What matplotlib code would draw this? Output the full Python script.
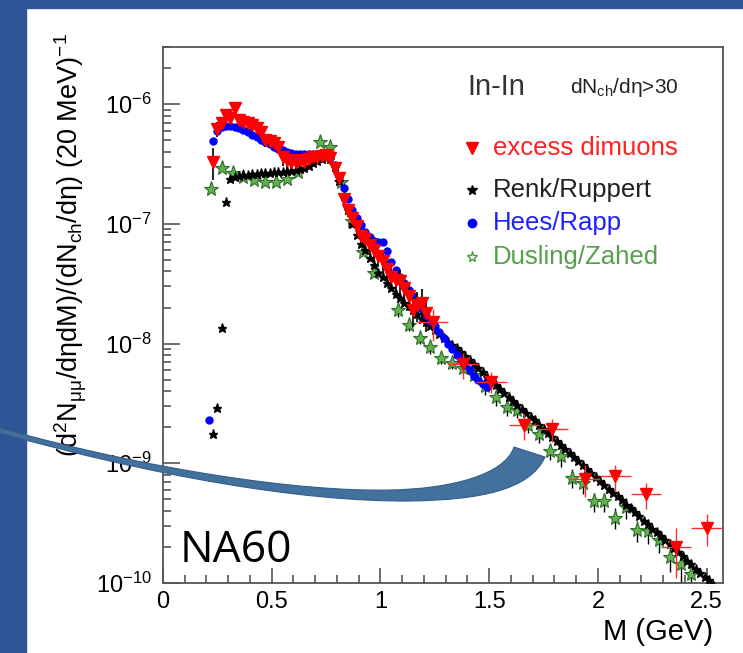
import numpy as np
import matplotlib
matplotlib.use('Agg')
import matplotlib.pyplot as plt
from matplotlib.path import Path
from matplotlib.patches import PathPatch, Rectangle
from matplotlib.ticker import MultipleLocator, FuncFormatter, LogLocator, NullFormatter

plt.rcParams['font.family'] = ['Liberation Sans', 'DejaVu Sans']
plt.rcParams['mathtext.fontset'] = 'custom'
plt.rcParams['mathtext.rm'] = 'Liberation Sans'
plt.rcParams['mathtext.it'] = 'Liberation Sans'
plt.rcParams['mathtext.bf'] = 'Liberation Sans:bold'

# --- data (M in GeV) ---
# excess dimuons, 20 MeV bins
excess_x = np.round(np.arange(0.23, 1.22, 0.02), 2)
excess_y = [3.3e-7, 6.2e-7, 7.0e-7, 8.1e-7, 7.6e-7, 9.3e-7, 7.4e-7, 7.1e-7, 6.9e-7, 6.7e-7,
            6.3e-7, 5.8e-7, 5.0e-7, 4.9e-7, 4.7e-7, 4.4e-7, 3.6e-7, 3.4e-7, 3.3e-7, 3.3e-7,
            3.4e-7, 3.3e-7, 3.5e-7, 3.6e-7, 3.65e-7, 3.7e-7, 3.75e-7, 3.55e-7, 2.9e-7, 2.4e-7,
            1.6e-7, 1.3e-7, 1.12e-7, 9.6e-8, 7.9e-8, 7.4e-8, 6.6e-8, 6.0e-8, 5.4e-8, 4.9e-8,
            4.2e-8, 3.6e-8, 3.4e-8, 3.3e-8, 2.9e-8, 2.5e-8, 1.9e-8, 2.1e-8, 2.2e-8, 1.8e-8]
excess_err = [0.30, 0.15, 0.12, 0.12, 0.12, 0.12, 0.12, 0.12, 0.12, 0.12,
              0.12, 0.12, 0.12, 0.12, 0.12, 0.12, 0.15, 0.15, 0.15, 0.15,
              0.15, 0.15, 0.12, 0.12, 0.10, 0.10, 0.10, 0.10, 0.10, 0.12,
              0.12, 0.12, 0.15, 0.15, 0.15, 0.18, 0.18, 0.18, 0.20, 0.20,
              0.20, 0.22, 0.22, 0.25, 0.25, 0.25, 0.28, 0.28, 0.30, 0.30]
# excess dimuons, wide bins at high mass
excess_wide_x = [1.24, 1.38, 1.51, 1.66, 1.79, 1.94, 2.08, 2.22, 2.36, 2.50]
excess_wide_y = [1.5e-8, 6.7e-9, 4.8e-9, 2.07e-9, 1.92e-9, 7.4e-10, 7.8e-10, 5.5e-10, 2.0e-10, 2.9e-10]
excess_wide_err = [0.30, 0.25, 0.20, 0.25, 0.22, 0.30, 0.25, 0.25, 0.45, 0.30]
excess_wide_xerr = 0.07

# Renk/Ruppert
renk_x = np.concatenate([[0.23, 0.25, 0.27, 0.29], np.round(np.arange(0.31, 2.54, 0.02), 2)])
renk_y = [1.75e-9, 2.9e-9, 1.36e-8, 1.52e-7,
          2.35e-7, 2.45e-7, 2.5e-7, 2.55e-7, 2.58e-7, 2.6e-7, 2.62e-7, 2.64e-7, 2.66e-7, 2.68e-7,
          2.7e-7, 2.7e-7, 2.72e-7, 2.74e-7, 2.76e-7, 2.8e-7, 2.85e-7, 2.95e-7, 3.05e-7, 3.2e-7,
          3.35e-7, 3.5e-7, 3.6e-7, 3.5e-7, 3.0e-7, 2.3e-7, 1.7e-7, 1.3e-7, 1.0e-7, 8.0e-8,
          6.8e-8, 6.0e-8, 5.2e-8, 4.5e-8, 3.9e-8,
          3.6e-8, 3.2e-8, 2.9e-8, 2.6e-8, 2.4e-8, 2.2e-8, 2.05e-8, 1.9e-8, 1.75e-8, 1.6e-8,
          1.5e-8, 1.4e-8, 1.3e-8, 1.2e-8, 1.12e-8, 1.04e-8, 9.7e-9, 9.1e-9, 8.5e-9, 7.9e-9,
          7.3e-9, 6.8e-9, 6.3e-9, 5.8e-9, 5.3e-9, 4.9e-9, 4.5e-9, 4.2e-9, 3.85e-9, 3.6e-9,
          3.3e-9, 3.05e-9, 2.85e-9, 2.65e-9, 2.45e-9, 2.28e-9, 2.1e-9, 1.95e-9, 1.8e-9, 1.67e-9,
          1.54e-9, 1.43e-9, 1.32e-9, 1.22e-9, 1.13e-9, 1.05e-9, 9.7e-10, 9.0e-10, 8.3e-10, 7.7e-10,
          7.1e-10, 6.6e-10, 6.1e-10, 5.7e-10, 5.3e-10, 4.9e-10, 4.5e-10, 4.2e-10, 3.9e-10, 3.6e-10,
          3.3e-10, 3.1e-10, 2.85e-10, 2.65e-10, 2.45e-10, 2.28e-10, 2.1e-10, 1.95e-10, 1.8e-10, 1.67e-10,
          1.54e-10, 1.43e-10, 1.32e-10, 1.22e-10, 1.13e-10, 1.05e-10, 9.7e-11]

# Hees/Rapp
rapp_x = np.concatenate([[0.21], np.round(np.arange(0.23, 1.50, 0.02), 2)])
rapp_y = [2.3e-9,
          4.9e-7, 6.0e-7, 6.4e-7, 6.6e-7, 6.6e-7, 6.5e-7, 6.3e-7, 6.1e-7, 5.8e-7, 5.5e-7,
          5.3e-7, 5.0e-7, 4.8e-7, 4.6e-7, 4.4e-7, 4.2e-7, 4.1e-7, 4.0e-7, 3.9e-7, 3.85e-7,
          3.8e-7, 3.8e-7, 3.8e-7, 3.8e-7, 3.8e-7, 3.8e-7, 3.75e-7, 3.6e-7, 3.1e-7, 2.5e-7,
          2.0e-7, 1.6e-7, 1.3e-7, 1.12e-7, 9.8e-8, 8.6e-8, 7.8e-8, 7.2e-8, 7.1e-8, 7.0e-8,
          5.9e-8, 4.8e-8, 4.1e-8, 3.6e-8, 3.2e-8, 2.8e-8, 2.5e-8, 2.2e-8, 1.95e-8, 1.7e-8,
          1.55e-8, 1.4e-8, 1.25e-8, 1.12e-8, 1.0e-8, 9.0e-9, 8.1e-9, 7.3e-9, 6.6e-9, 6.0e-9,
          5.4e-9, 4.95e-9, 4.6e-9, 4.3e-9]

# Dusling/Zahed
dusling_x = [0.22, 0.27, 0.32, 0.37, 0.42, 0.47, 0.52, 0.57, 0.62, 0.72, 0.77, 0.82, 0.87, 0.92,
             0.97, 1.08, 1.13, 1.18, 1.23, 1.28, 1.33, 1.38, 1.43, 1.48, 1.53, 1.58, 1.63, 1.68,
             1.73, 1.78, 1.83, 1.88, 1.93, 1.98, 2.03, 2.08, 2.13, 2.18, 2.23, 2.28, 2.33, 2.38, 2.43]
dusling_y = [1.96e-7, 2.9e-7, 2.66e-7, 2.46e-7, 2.33e-7, 2.24e-7, 2.24e-7, 2.37e-7, 2.7e-7,
             4.8e-7, 4.4e-7, 2.24e-7, 1.05e-7, 5.8e-8, 3.9e-8, 1.9e-8, 1.44e-8, 1.12e-8, 9.3e-9,
             7.6e-9, 6.9e-9, 6.3e-9, 5.5e-9, 4.4e-9, 3.55e-9, 2.93e-9, 2.8e-9, 2.1e-9, 1.75e-9,
             1.26e-9, 1.14e-9, 7.6e-10, 6.8e-10, 4.8e-10, 4.8e-10, 3.5e-10, 4.3e-10, 2.77e-10,
             2.7e-10, 2.28e-10, 1.65e-10, 1.44e-10, 1.19e-10]
dusling_err = [0, 0, 0, 0, 0, 0, 0, 0, 0, 0, 0, 0, 0, 0,
               0, 0.12, 0.12, 0.12, 0.12, 0.12, 0.12, 0.12, 0.12, 0.15, 0.15, 0.15, 0.15, 0.15,
               0.15, 0.15, 0.18, 0.18, 0.18, 0.18, 0.18, 0.2, 0.2, 0.2, 0.22, 0.22, 0.25, 0.3, 0.3]

legend_labels = ['excess dimuons', 'Renk/Ruppert', 'Hees/Rapp', 'Dusling/Zahed']

fig = plt.figure(figsize=(7.43, 6.53), dpi=100)

# slide frame (blue bars)
fig.add_artist(Rectangle((0, 0), 26 / 743, 1, transform=fig.transFigure,
                         color='#2F5597', zorder=0))
fig.add_artist(Rectangle((0, 1 - 8 / 653), 1, 8 / 653, transform=fig.transFigure,
                         color='#2F5597', zorder=0))

ax = fig.add_axes([163 / 743, 1 - 583 / 653, 560 / 743, 536 / 653])
ax.set_zorder(1)

# models
dy = np.array(dusling_y)
dr = np.array(dusling_err)
ax.errorbar(dusling_x, dy, yerr=[dy * dr, dy * dr], fmt='none', ecolor='black',
            elinewidth=1.0, zorder=2)
ax.plot(dusling_x, dy, ls='none', marker='*', ms=11, mfc='#62b050', mec='#2f6f2a',
        mew=0.8, zorder=3)
ax.plot(renk_x, renk_y, ls='none', marker='*', ms=6.5, color='black', zorder=4)
ax.plot(rapp_x, rapp_y, ls='none', marker='o', ms=5, color='#0000ff', mec='#0000ff', zorder=5)

# data
ey = np.array(excess_y)
er = np.array(excess_err)
ax.errorbar(excess_x, ey, yerr=[ey * er, ey * er], fmt='none', ecolor='black',
            elinewidth=1.2, zorder=6)
ax.plot(excess_x, ey, ls='none', marker='v', ms=8, color='#ff0000', zorder=7)
wy = np.array(excess_wide_y)
wr = np.array(excess_wide_err)
ax.errorbar(excess_wide_x, wy, xerr=excess_wide_xerr, yerr=[wy * wr, wy * wr], fmt='v',
            ms=8, color='#ff0000', ecolor='#ff3030', elinewidth=1.0, zorder=7)

ax.set_yscale('log')
ax.set_xlim(0, 2.575)
ax.set_ylim(1e-10, 3e-6)
ax.xaxis.set_major_locator(MultipleLocator(0.5))
ax.xaxis.set_minor_locator(MultipleLocator(0.1))
ax.xaxis.set_major_formatter(FuncFormatter(lambda v, p: f'{v:g}'))
ax.yaxis.set_major_locator(LogLocator(base=10))
ax.yaxis.set_minor_locator(LogLocator(base=10, subs=np.arange(2, 10)))
ax.yaxis.set_minor_formatter(NullFormatter())

ax.tick_params(which='both', direction='in', top=False, right=False, color='#555555',
               labelsize=17, width=1.2)
ax.tick_params(axis='y', which='major', length=12, pad=8)
ax.tick_params(axis='y', which='minor', length=6)
ax.tick_params(axis='x', which='major', length=11, pad=6)
ax.tick_params(axis='x', which='minor', length=5.5)
for s in ax.spines.values():
    s.set_color('#555555')
    s.set_linewidth(1.3)

ax.set_xlabel('M (GeV)', fontsize=21)
ax.xaxis.set_label_coords(0.982, -0.092)
ax.xaxis.label.set_horizontalalignment('right')
ax.xaxis.label.set_verticalalignment('center')

ax.set_ylabel(r'(d$^{2}$N$_{μμ}$/dηdM)/(dN$_{ch}$/dη) (20 MeV)$^{-1}$', fontsize=19.5)
ax.yaxis.set_label_coords(-0.165, 0.63)
ax.yaxis.label.set_verticalalignment('center')

# in-plot labels / legend
ax.text(0.543, 0.925, 'In-In', transform=ax.transAxes, fontsize=21, color='#333333',
        va='center', ha='left')
ax.text(0.727, 0.925, r'dN$_{ch}$/dη>30', transform=ax.transAxes, fontsize=15,
        color='#222222', va='center', ha='left')

leg_y = [0.8116, 0.7332, 0.6716, 0.6082]
leg_marker = ['v', '*', 'o', '*']
leg_mfc = ['#ff0000', 'black', '#0000ff', 'none']
leg_mec = ['#ff0000', 'black', '#0000ff', '#4f9a45']
leg_ms = [8, 7, 6, 8]
leg_tc = ['#ff2020', '#222222', '#2020ff', '#55a04a']
for lab, yy, mk, fc, ec, ms, tc in zip(legend_labels, leg_y, leg_marker, leg_mfc, leg_mec,
                                       leg_ms, leg_tc):
    ax.plot([0.552], [yy], transform=ax.transAxes, ls='none', marker=mk, mfc=fc, mec=ec,
            ms=ms, clip_on=False)
    ax.text(0.589, yy, lab, transform=ax.transAxes, fontsize=18.5, color=tc,
            va='center', ha='left')

# curved arrow shape from the slide
def P(x, y):
    return (x / 743, 1 - y / 653)

verts = [P(0, 428),
         P(150, 470), P(300, 492), P(390, 490),
         P(450, 489), P(505, 475), P(514, 447),
         P(545, 457),
         P(530, 490), P(480, 500), P(410, 501),
         P(300, 502), P(150, 475), P(0, 433),
         P(0, 428)]
codes = [Path.MOVETO,
         Path.CURVE4, Path.CURVE4, Path.CURVE4,
         Path.CURVE4, Path.CURVE4, Path.CURVE4,
         Path.LINETO,
         Path.CURVE4, Path.CURVE4, Path.CURVE4,
         Path.CURVE4, Path.CURVE4, Path.CURVE4,
         Path.CLOSEPOLY]
fig.add_artist(PathPatch(Path(verts, codes), transform=fig.transFigure,
                         facecolor='#41719C', edgecolor='#385D8A', lw=0.8, zorder=10))

fig.text(180 / 743, 1 - 551 / 653, 'NA60', fontsize=32, family=['Open Sans', 'DejaVu Sans'],
         color='black', va='center', ha='left', zorder=11)

fig.savefig('out.png', dpi=100)
